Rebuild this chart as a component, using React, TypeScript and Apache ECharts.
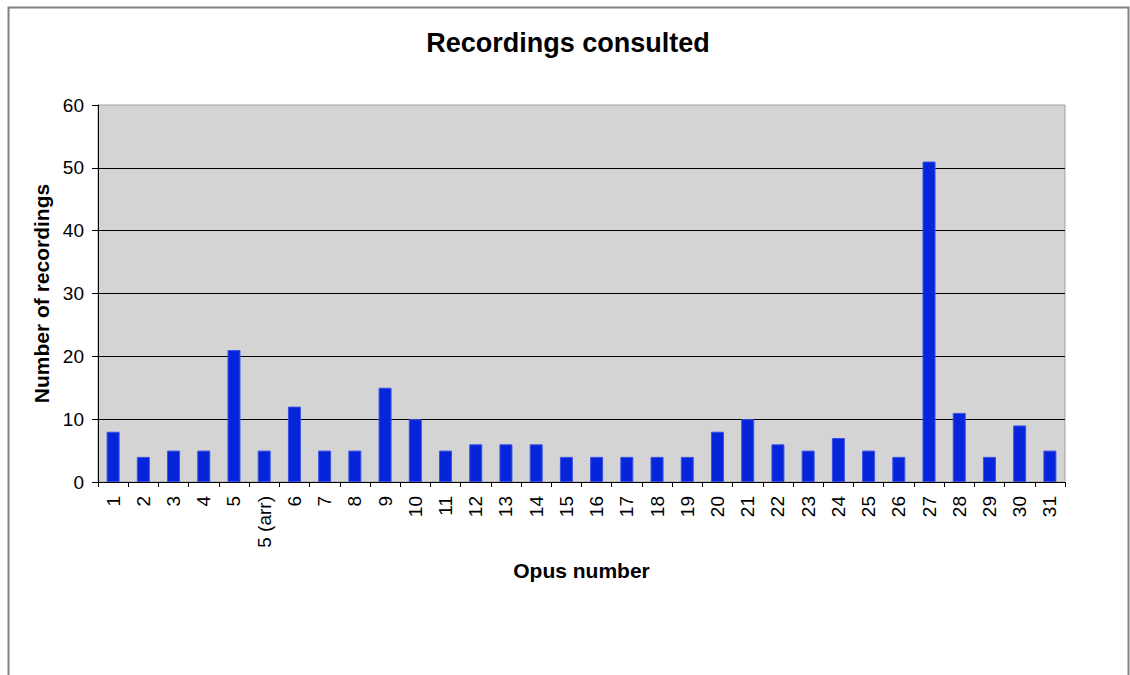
import React, { useEffect, useRef } from "react";
import * as echarts from "echarts";

const categories = [
  "1", "2", "3", "4", "5", "5 (arr)", "6", "7", "8", "9", "10", "11", "12", "13", "14", "15",
  "16", "17", "18", "19", "20", "21", "22", "23", "24", "25", "26", "27", "28", "29", "30", "31",
];
const recordings = [
  8, 4, 5, 5, 21, 5, 12, 5, 5, 15, 10, 5, 6, 6, 6, 4,
  4, 4, 4, 4, 8, 10, 6, 5, 7, 5, 4, 51, 11, 4, 9, 5,
];

const FONT = "'Liberation Sans', Arial, Helvetica, sans-serif";

export default function App() {
  const ref = useRef<HTMLDivElement>(null);
  useEffect(() => {
    if (!ref.current) return;
    const chart = echarts.init(ref.current, null, { renderer: "svg" });
    chart.setOption({
      animation: false,
      backgroundColor: "#ffffff",
      textStyle: { fontFamily: FONT },
      title: {
        text: "Recordings consulted",
        left: 563,
        top: 24,
        textAlign: "center",
        textStyle: { fontFamily: FONT, fontSize: 27, fontWeight: "bold", color: "#000" },
      },
      graphic: [
        {
          type: "polyline",
          shape: { points: [[8.5, 680], [8.5, 7.5], [1128.5, 7.5], [1128.5, 680]] },
          style: { stroke: "#808080", lineWidth: 2, fill: "none" },
          silent: true,
        },
      ],
      grid: {
        left: 98,
        top: 105,
        right: 65,
        bottom: 193,
        show: true,
        backgroundColor: "#d4d4d4",
        borderColor: "#a0a0a0",
        borderWidth: 1,
      },
      xAxis: {
        type: "category",
        data: categories,
        name: "Opus number",
        nameLocation: "middle",
        nameGap: 78,
        nameTextStyle: { fontFamily: FONT, fontSize: 21, fontWeight: "bold", color: "#000" },
        axisLine: { show: true, lineStyle: { color: "#000", width: 1 } },
        axisTick: { show: true, length: 5, alignWithLabel: false, lineStyle: { color: "#000" } },
        axisLabel: {
          rotate: 90,
          margin: 14,
          interval: 0,
          fontFamily: FONT,
          fontSize: 19,
          color: "#000",
        },
        splitLine: { show: false },
      },
      yAxis: {
        type: "value",
        min: 0,
        max: 60,
        interval: 10,
        name: "Number of recordings",
        nameLocation: "middle",
        nameGap: 46,
        nameTextStyle: { fontFamily: FONT, fontSize: 21, fontWeight: "bold", color: "#000" },
        axisLine: { show: true, lineStyle: { color: "#000", width: 1 } },
        axisTick: { show: true, length: 6, lineStyle: { color: "#000" } },
        axisLabel: { margin: 14, fontFamily: FONT, fontSize: 19, color: "#000" },
        splitLine: { show: true, showMaxLine: false, lineStyle: { color: "#000", width: 1 } },
      },
      series: [
        {
          type: "bar",
          data: recordings,
          barWidth: 13,
          itemStyle: { color: "#0624d9", borderColor: "#3a52e6", borderWidth: 1 },
        },
      ],
    });
    return () => chart.dispose();
  }, []);
  return (
    <div
      ref={ref}
      style={{ position: "absolute", left: 0, top: 0, width: 1130, height: 675 }}
    />
  );
}
